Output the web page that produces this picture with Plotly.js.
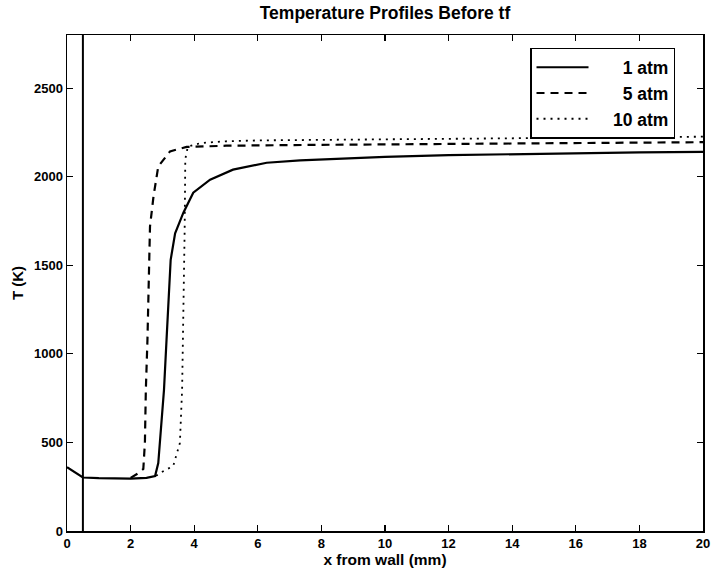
<!DOCTYPE html>
<html>
<head>
<meta charset="utf-8">
<script src="https://cdn.plot.ly/plotly-3.0.1.min.js"></script>
<style>html,body{margin:0;padding:0;background:#fff;}#chart{width:712px;height:575px;}</style>
</head>
<body>
<div id="chart"></div>
<script>
// 1 atm (solid)
var x1 = [0, 0.5, 1.0, 1.5, 2.0, 2.5, 2.77, 2.87, 2.98, 3.05, 3.13, 3.26, 3.4, 3.66, 3.97, 4.5, 5.22, 6.28, 7.33, 8.9, 10, 12, 14, 16, 18, 20];
var T1 = [360, 302, 298, 296, 296, 300, 310, 384, 610, 797, 1079, 1531, 1680, 1797, 1910, 1983, 2040, 2079, 2092, 2105, 2112, 2122, 2128, 2133, 2137, 2140];
// 5 atm (dashed)
var x5 = [2.0, 2.23, 2.4, 2.45, 2.48, 2.53, 2.61, 2.72, 2.87, 3.24, 3.76, 5, 8, 12, 16, 20];
var T5 = [300, 325, 350, 500, 800, 1079, 1719, 1889, 2058, 2143, 2168, 2175, 2180, 2185, 2190, 2195];
// 10 atm (dotted)
var x10 = [2.8, 3.0, 3.34, 3.55, 3.62, 3.66, 3.7, 3.72, 3.8, 4.2, 5, 6, 8, 10, 12, 14, 16, 18, 20];
var T10 = [312, 335, 367, 497, 800, 1200, 1700, 2100, 2170, 2190, 2200, 2205, 2208, 2210, 2212, 2215, 2218, 2222, 2226];
// wall marker line
var xw = [0.5, 0.5];
var Tw = [0, 2800];

var names = ['1 atm', '5 atm', '10 atm'];
var xTicks = [0, 2, 4, 6, 8, 10, 12, 14, 16, 18, 20];
var yTicks = [0, 500, 1000, 1500, 2000, 2500];

function nb(n) { return '\u00a0'.repeat(n); }
function bold(s) { return '<b>' + s + '</b>'; }

var traces = [
  {x: x1, y: T1, mode: 'lines', name: nb(6) + names[0], line: {color: '#000', width: 2.2, dash: 'solid'}},
  {x: x5, y: T5, mode: 'lines', name: nb(6) + names[1], line: {color: '#000', width: 2.2, dash: '8px,6px'}},
  {x: x10, y: T10, mode: 'lines', name: nb(4) + names[2], line: {color: '#000', width: 1.8, dash: '2px,5px'}},
  {x: xw, y: Tw, mode: 'lines', showlegend: false, line: {color: '#000', width: 2}}
];

var fam = 'Liberation Sans, Arial, sans-serif';
var layout = {
  width: 712, height: 575,
  margin: {l: 67, r: 9, t: 35, b: 44},
  paper_bgcolor: '#fff', plot_bgcolor: '#fff',
  font: {family: fam, color: '#000'},
  title: {text: bold('Temperature Profiles Before tf'), font: {family: fam, size: 17.5, color: '#000'}, x: 0.5, xref: 'paper', xanchor: 'center', y: 0.978, yanchor: 'middle'},
  showlegend: true,
  legend: {x: 0.728, y: 0.974, xanchor: 'left', yanchor: 'top', bordercolor: '#000', borderwidth: 1.5, bgcolor: '#fff',
           font: {family: fam, size: 17.5, color: '#000', weight: 'bold'}, itemwidth: 52, tracegroupgap: 0},
  xaxis: {range: [0, 20], tickvals: xTicks, ticktext: xTicks.map(function (v) { return bold(String(v)); }),
          ticks: 'inside', ticklen: 6, tickwidth: 1.2, tickcolor: '#000',
          showline: true, linecolor: '#000', linewidth: 1.5, mirror: 'ticks', showgrid: false, zeroline: false,
          tickfont: {family: fam, size: 13, color: '#000'},
          title: {text: bold('x from wall (mm)'), font: {family: fam, size: 15.5, color: '#000'}, standoff: 3}},
  yaxis: {range: [0, 2800], tickvals: yTicks, ticktext: yTicks.map(function (v) { return bold(String(v)); }),
          ticks: 'inside', ticklen: 6, tickwidth: 1.2, tickcolor: '#000',
          showline: true, linecolor: '#000', linewidth: 1.5, mirror: 'ticks', showgrid: false, zeroline: false,
          tickfont: {family: fam, size: 13, color: '#000'},
          title: {text: bold('T (K)'), font: {family: fam, size: 15, color: '#000'}, standoff: 6}}
};
Plotly.newPlot('chart', traces, layout, {staticPlot: true, displayModeBar: false});
</script>
</body>
</html>
